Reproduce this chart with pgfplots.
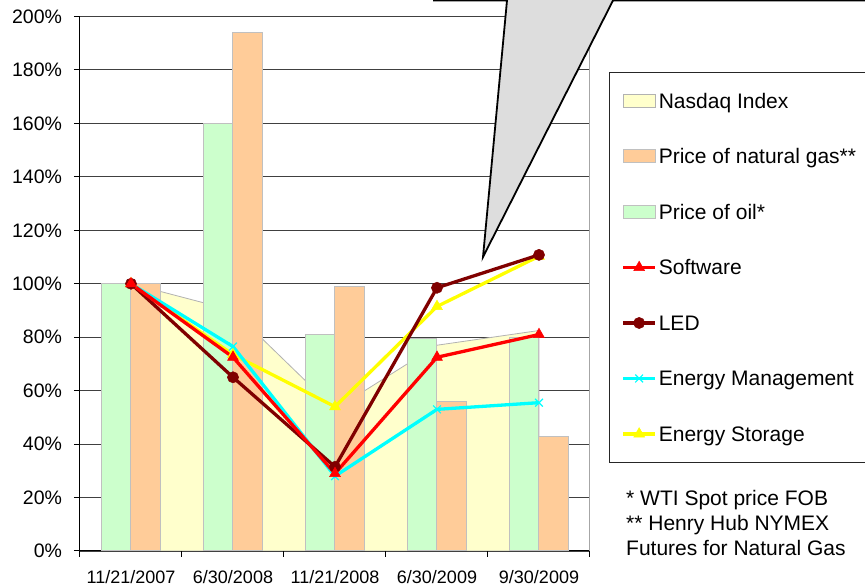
\documentclass[border=0pt]{standalone}
\usepackage{fontspec}
\setmainfont{Liberation Sans}
\usepackage{pgfplots}
\usepackage{pgfplotstable}
\pgfplotsset{compat=1.18}

\definecolor{nasdaq}{HTML}{FFFFCC}
\definecolor{gas}{HTML}{FFCC99}
\definecolor{oil}{HTML}{CCFFCC}
\definecolor{led}{HTML}{800000}
\definecolor{swred}{HTML}{FF0000}
\definecolor{emcyan}{HTML}{00FFFF}
\definecolor{esyellow}{HTML}{FFFF00}
\definecolor{callout}{HTML}{DDDDDD}
\definecolor{barline}{HTML}{C0C0C0}

% values relative to 11/21/2007 (= 100%)
\pgfplotstableread{
x nasdaq gas oil software led em es
0 100  100 100  100  100  100  100
1 90   194 160  72.5 65   76.5 73.5
2 53   99  81   29   31.5 28   54
3 77   56  79.5 72.5 98.5 53   91.5
4 82.5 43  80   81   110.8 55.5 110.3
}\data

\pgfplotsset{
  boxleg/.style={legend image code/.code={\draw[##1] (0pt,-6.5pt) rectangle (32pt,6.5pt);}},
  lineleg/.style={legend image code/.code={\draw[mark repeat=2,mark phase=2,##1]
      plot coordinates {(0pt,0pt) (16pt,0pt) (32pt,0pt)};}},
  sw/.style={swred, line width=3.3pt, mark=triangle*, mark size=6.3pt, mark options={solid,line width=0.5pt}},
  ld/.style={led, line width=3.3pt, mark=*, mark size=5.6pt, mark options={solid,line width=0.5pt}},
  em/.style={emcyan, line width=3.3pt, mark=x, mark size=5.5pt, mark options={solid,line width=1.2pt}},
  st/.style={esyellow, line width=3.3pt, mark=triangle*, mark size=6.3pt, mark options={solid,line width=0.5pt}},
}

\begin{document}
\begin{tikzpicture}
\begin{axis}[
  scale only axis, width=510pt, height=534.5pt,
  xmin=-0.5, xmax=4.5, ymin=0, ymax=200,
  axis x line*=bottom, axis y line*=left,
  axis line style={black, line width=1pt},
  font=\fontsize{18}{21.6}\selectfont,
  xtick={-0.5,0.5,...,4.5},
  xticklabels={,,,,,},
  extra x ticks={0,1,2,3,4},
  extra x tick labels={11/21/2007,6/30/2008,11/21/2008,6/30/2009,9/30/2009},
  extra x tick style={major tick length=0pt, xticklabel style={yshift=-16pt}},
  ytick={0,20,...,200},
  yticklabels={0\%,20\%,40\%,60\%,80\%,100\%,120\%,140\%,160\%,180\%,200\%},
  yticklabel style={xshift=-8.5pt, font=\fontsize{19.5}{23}\selectfont},
  tick align=outside, major tick length=6pt,
  tick style={black, line width=1pt},
  ymajorgrids, grid style={black!75, line width=0.9pt},
  legend style={at={(1.0373,0.8962)}, anchor=north west, draw=black!85,
    line width=1pt, fill=white, font=\fontsize{21}{25}\selectfont,
    inner xsep=12pt, inner ysep=19pt, row sep=36.5pt,
    nodes={inner sep=2pt, text height=15pt, text depth=0pt},
    /tikz/every even column/.append style={column sep=7pt}},
  legend cell align=left,
]
\addplot[boxleg, fill=nasdaq, draw=black!30, line width=0.8pt] table[x=x,y=nasdaq]{\data} \closedcycle;
\addplot[boxleg, ybar, bar width=0.29, bar shift=0.145, fill=gas, draw=barline, line width=1pt] table[x=x,y=gas]{\data};
\addplot[boxleg, ybar, bar width=0.29, bar shift=-0.145, fill=oil, draw=barline, line width=1pt] table[x=x,y=oil]{\data};
\addplot[st, forget plot] table[x=x,y=es]{\data};
\addplot[em, forget plot] table[x=x,y=em]{\data};
\addplot[ld, forget plot] table[x=x,y=led]{\data};
\addplot[sw, forget plot] table[x=x,y=software]{\data};
\addlegendimage{lineleg, sw}
\addlegendimage{lineleg, ld}
\addlegendimage{lineleg, em}
\addlegendimage{lineleg, st}
\legend{Nasdaq Index, Price of natural gas**, Price of oil*, Software, LED, Energy Management, Energy Storage}
\draw[black!35, line width=1.5pt] (rel axis cs:1,0) -- (rel axis cs:1,1);
\coordinate (BL) at (rel axis cs:0,0);
\end{axis}
% page coordinates: x from the left edge, y from the bottom edge, in px
\begin{scope}[shift={(BL)}, xshift=-80pt, yshift=-35pt, x=1pt, y=1pt]
\node[anchor=north west, align=left, inner sep=0pt,
  font=\fontsize{21}{25}\selectfont] at (626,96)
  {* WTI Spot price FOB\\** Henry Hub NYMEX\\Futures for Natural Gas};
\filldraw[fill=callout, draw=black, line width=1.8pt, line join=miter]
  (434,585.5) -- (507,585.5) -- (483,329) -- (613,585.5) -- (880,585.5)
  -- (880,620) -- (434,620) -- cycle;
\pgfresetboundingbox
\path[use as bounding box] (0,0) rectangle (865,586);
\end{scope}
\end{tikzpicture}
\end{document}
